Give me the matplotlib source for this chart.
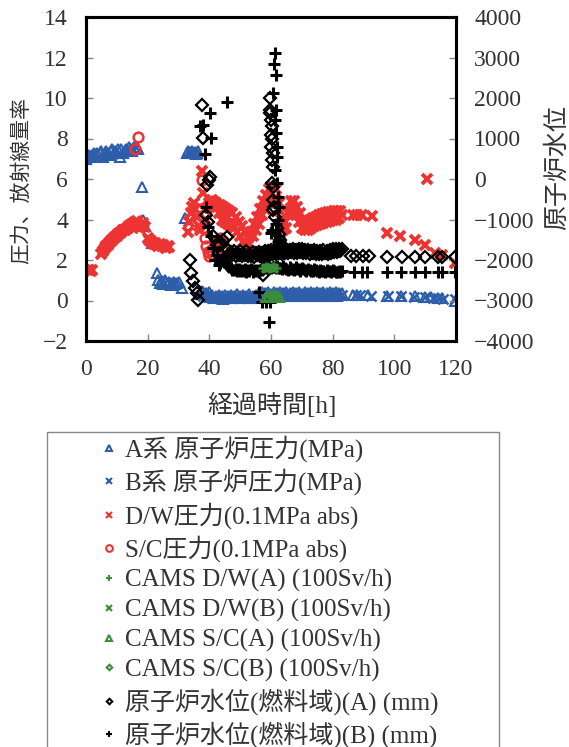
import matplotlib
matplotlib.use('Agg')
import matplotlib.pyplot as plt
from matplotlib.patches import Rectangle

plt.rcParams['font.family'] = ['Liberation Serif', 'Noto Sans CJK JP']

# A系 原子炉圧力 (MPa)
a_t = [0, 0.5, 1, 1.5, 2, 2.5, 3, 3.5, 4, 4.5, 5, 5.5, 6, 6.5, 7, 7.5, 8, 8.5, 9, 9.5,
       10, 10.5, 11, 11.5, 12, 12.5, 13, 13.5, 14, 14.5, 15, 15.5, 16, 16.5, 17,
       18, 18.5, 19, 21.5, 23, 23.5, 24, 24.5, 25, 25.5, 26, 26.5, 27, 27.5, 28, 28.5,
       29, 29.5, 30, 31, 32,
       32.8, 33.2, 33.6, 34, 34.4, 34.8, 35.2, 35.6, 36, 36.4,
       37, 37.5, 38, 38.5, 39, 39.5, 40,
       40.5, 41, 41.5, 42, 42.5, 43, 43.5, 44, 44.5, 45, 45.5, 46, 46.5, 47, 47.5,
       48, 48.5, 49, 49.5, 50, 50.5, 51, 51.5, 52, 52.5, 53, 53.5, 54, 54.5, 55,
       55.5, 56, 56.5, 57, 57.5, 58, 58.5, 59, 59.5, 60, 60.5, 61, 61.5, 62,
       62.5, 63, 63.5, 64, 64.5, 65, 65.5, 66, 66.5, 67, 67.5, 68, 68.5, 69,
       69.5, 70, 70.5, 71, 71.5, 72, 72.5, 73, 73.5, 74, 74.5, 75, 75.5, 76,
       76.5, 77, 77.5, 78, 78.5, 79, 79.5, 80, 80.5, 81, 81.5, 82, 82.5, 83,
       86.5, 88, 91.5, 97.6, 102, 106.7, 110, 112, 114, 115.5, 119.8]
a_p = [7.0, 7.1, 7.2, 7.1, 7.2, 7.3, 7.2, 7.3, 7.2, 7.3, 7.4, 7.1, 7.3, 7.4, 7.3, 7.2,
       7.4, 7.5, 7.3, 7.4, 7.3, 7.5, 7.1, 7.5, 7.3, 7.4, 7.5, 7.4, 7.6, 7.5, 7.4, 7.6,
       7.5, 7.6, 7.5,
       5.6, 4.0, 3.7, 2.85, 1.35, 1.0, 0.85, 0.95, 0.8, 1.0, 0.9, 0.8, 0.9, 0.75, 0.85,
       0.9, 0.8, 0.85, 0.9, 0.6, 4.05,
       7.3, 7.4, 7.35, 7.3, 7.4, 7.3, 7.35, 7.25, 7.3, 7.4,
       0.3, 0.45, 0.4, 0.3, 0.35, 0.25, 0.4,
       0.15, 0.25, 0.1, 0.2, 0.15, 0.25, 0.1, 0.2, 0.05, 0.25, 0.1, 0.2, 0.15, 0.25, 0.1,
       0.2, 0.15, 0.3, 0.1, 0.2, 0.15, 0.25, 0.1, 0.2, 0.15, 0.3, 0.1, 0.2, 0.15, 0.25,
       0.2, 0.35, 0.25, 0.4, 0.2, 0.35, 0.25, 0.4, 0.2, 0.3, 0.25, 0.4, 0.2, 0.35,
       0.25, 0.4, 0.2, 0.35, 0.3, 0.4, 0.2, 0.35, 0.25, 0.4, 0.2, 0.35, 0.25, 0.4,
       0.2, 0.3, 0.25, 0.4, 0.2, 0.35, 0.25, 0.4, 0.2, 0.35, 0.25, 0.4, 0.2, 0.35,
       0.3, 0.4, 0.2, 0.35, 0.25, 0.4, 0.2, 0.35, 0.25, 0.4, 0.2, 0.35, 0.25, 0.35,
       0.25, 0.25, 0.25, 0.2, 0.2, 0.2, 0.15, 0.15, 0.1, 0.1, 0.0]

# B系 原子炉圧力 (MPa)
b_t = [38, 39.5, 41, 42.5, 44, 45.5, 47, 48.5, 50, 51.5, 53, 54.5, 56, 57.5, 59, 60.5,
       62, 63.5, 65, 66.5, 68, 69.5, 71, 72.5, 74, 75.5, 77, 78.5, 80, 81.5, 83,
       87.5, 89, 92.5, 97.8, 102.3, 106.5, 109.8, 112.5, 114.2, 115.8, 119.6]
b_p = [0.2, 0.15, 0.1, 0.15, 0.1, 0.15, 0.1, 0.15, 0.1, 0.15, 0.1, 0.15, 0.2, 0.2, 0.25,
       0.3, 0.25, 0.3, 0.3, 0.25, 0.3, 0.3, 0.3, 0.25, 0.3, 0.3, 0.3, 0.25, 0.3, 0.3, 0.25,
       0.25, 0.25, 0.2, 0.2, 0.2, 0.15, 0.15, 0.1, 0.1, 0.05, 0.05]

# D/W圧力 (0.1MPa abs)
dw_t = [0.5, 1, 1.5, 2,
        5, 5.5, 6, 6.5, 7, 7.5, 8, 8.5, 9, 9.5, 10, 10.5, 11, 11.5, 12, 12.5, 13, 13.5,
        14, 14.5, 15, 15.5, 16, 16.5, 17, 17.5, 18, 18.5, 19,
        20, 20.5, 21, 21.5, 22, 22.5, 23, 23.5, 24, 24.5, 25, 25.5, 26, 26.5, 27,
        33, 33.5, 34, 34.5, 35, 35.5, 36, 36.5, 37, 37.5, 38, 38.5, 39, 39.5, 40, 40.5,
        41, 41.5, 42, 42.5,
        43, 43.5, 44, 44.5, 45, 45.5, 46, 46.5, 47, 47.5, 48, 48.5,
        49, 49.5, 50, 50.5, 51, 51.5, 52, 52.5, 53, 53.5, 54, 54.5, 55, 55.5, 56, 56.5,
        57, 57.5, 58, 58.5, 59, 59.5, 60, 60.5, 61, 61.5, 62, 62.5,
        63, 63.5, 64, 64.5, 65, 65.5, 66, 66.5, 67, 67.5, 68, 68.5, 69, 69.5, 70, 70.5,
        71, 71.5, 72, 72.5, 73, 73.5, 74, 74.5, 75, 75.5, 76, 76.5, 77, 77.5, 78, 78.5,
        79, 79.5, 80, 80.5, 81, 81.5, 82, 82.5, 83,
        86.5, 88, 89.4, 92.7, 97.5, 101.8, 106.7, 110, 110.5, 113.2, 115.4, 119.7]
dw_p = [1.5, 1.5, 1.45, 1.5,
        2.3, 2.45, 2.6, 2.7, 2.75, 2.85, 2.95, 3.0, 3.1, 3.15, 3.2, 3.3, 3.35, 3.4, 3.5,
        3.5, 3.55, 3.6, 3.7, 3.75, 3.8, 3.85, 3.9, 3.95, 3.8, 3.6, 3.75, 3.85, 3.65,
        3.1, 3.0, 2.95, 2.85, 2.8, 2.85, 2.75, 2.7, 2.8, 2.7, 2.75, 2.65, 2.6, 2.7, 2.65,
        3.4, 3.9, 4.3, 4.6, 4.8, 4.5, 4.1, 3.7, 3.5, 6.4, 5.3, 4.5, 4.0, 4.6, 4.8, 4.9,
        4.95, 4.85, 4.8, 4.6,
        4.3, 4.7, 4.0, 4.6, 3.9, 4.5, 3.8, 4.4, 3.7, 4.3, 3.6, 4.1,
        3.4, 3.9, 3.2, 3.7, 2.9, 3.4, 2.7, 3.1, 2.8, 3.4, 3.2, 3.8, 3.5, 4.1, 3.8, 4.5,
        4.2, 4.9, 4.5, 5.2, 4.8, 5.5, 4.9, 5.6, 5.0, 5.5, 4.9, 4.8,
        4.4, 4.0, 3.5, 3.9, 3.6, 4.3, 4.4, 4.9, 4.5, 4.9, 4.2, 4.6, 3.9, 4.3, 3.6, 4.0,
        3.5, 3.9, 3.5, 3.95, 3.6, 4.05, 3.7, 4.1, 3.75, 4.2, 3.8, 4.25, 3.85, 4.3, 3.9,
        4.35, 3.95, 4.35, 4.0, 4.4, 4.0, 4.4, 4.05, 4.4, 4.2,
        4.2, 4.2, 4.2, 4.15, 3.35, 3.2, 3.0, 2.75, 6.0, 2.35, 2.25, 1.85]

# S/C圧力 (0.1MPa abs)
sc_t = [16, 17, 37.5, 38, 38.5, 39, 39.5, 40, 40.5, 41, 41.5, 42, 42.5, 43, 43.5, 44,
        44.5, 41.3, 42]
sc_p = [7.5, 8.05, 5.95, 3.6, 3.1, 2.7, 2.4, 2.2, 2.5, 2.3, 2.6, 2.9, 2.5, 2.8, 3.1, 2.6,
        2.9, 4.9, 4.8]

# CAMS (100Sv/h)
cdwa_t = [57.5, 58.5, 59.5, 60.5, 61.5]
cdwa_v = [1.6, 1.65, 1.6, 1.65, 1.6]
cdwb_t = [58, 59, 60, 61]
cdwb_v = [1.6, 1.6, 1.65, 1.6]
csca_t = [58.5, 59.5, 60.5, 61.5, 62.5]
csca_v = [0.15, 0.2, 0.15, 0.2, 0.15]
cscb_t = [59, 60, 61, 62]
cscb_v = [0.15, 0.2, 0.2, 0.15]

# 原子炉水位(燃料域)(A) (mm)
lva_t = [33.7, 34.0, 34.8, 35.4, 36.0, 36.4, 37.5, 38.0, 39.8, 40.2, 39.1, 39.0, 39.6,
         41.3, 42.5, 43.0, 43.5, 44.5, 45.7,
         46, 46.5, 47, 47.5, 48, 48.5, 49, 49.5, 50, 50.5, 51, 51.5, 52, 52.5,
         53, 53.5, 54, 54.5, 55, 55.5, 56, 56.5, 57, 57.5, 58, 58.5, 59, 59.5,
         60, 60.5, 61, 61.5, 62, 62.5, 63, 63.5, 64, 64.5, 65, 65.5, 66, 66.5,
         67, 67.5, 68, 68.5, 69, 69.5, 70, 70.5, 71, 71.5, 72, 72.5, 73, 73.5,
         74, 74.5, 75, 75.5, 76, 76.5, 77, 77.5, 78, 78.5, 79, 79.5, 80, 80.5,
         81, 81.5, 82, 82.5, 83,
         57.5, 58.0, 58.2, 58.5, 59.7, 59.7, 59.8, 60.0, 60.2, 59.9, 60.3, 60.0, 60.5,
         60.2, 60.6, 60.4, 60.8, 60.6, 61.0, 60.8, 61.2,
         62.0, 62.5, 63.0, 63.5,
         86, 87.6, 89.7, 91.9, 97.5, 102.4, 106.7, 110, 114.3, 115.4, 119.7]
lva_v = [-2000, -2330, -2530, -2700, -2820, -2990, 1830, 1005, -25, 40, -150, -890, -1050,
         -1400, -1630, -1835, -1630, -1506, -1424,
         -1760, -1860, -1800, -1880, -1770, -1900, -1820, -1870, -1780, -1910, -1830,
         -1880, -1790, -1900, -1840, -1890, -1800, -1920, -1830, -1880, -1800, -1900,
         -1820, -1870, -1790, -1860, -1780, -1850, -1760, -1840, -1780, -1850, -1760,
         -1830, -1750, -1840, -1770, -1820, -1740, -1830, -1760, -1810, -1730, -1820,
         -1750, -1820, -1730, -1810, -1740, -1830, -1750, -1820, -1760, -1840, -1770,
         -1830, -1760, -1850, -1770, -1840, -1780, -1850, -1760, -1830, -1770, -1840,
         -1750, -1820, -1740, -1810, -1740, -1800, -1730, -1790, -1740,
         -2370, -2000, -2165, -1835, 1990, 1700, 1620, 1460, 1300, 1090, 1000, 800, 640,
         470, 300, -110, -190, -520, -680, -770, -930,
         -1200, -1350, -1500, -1650,
         -1900, -1900, -1900, -1900, -1920, -1920, -1920, -1920, -1920, -1920, -1920]

# 原子炉水位(燃料域)(B) (mm)
lvb_t = [37.0, 38.0, 38.6, 40.2, 40.7, 45.6, 39.0, 39.7, 40.5, 41.3, 41.8, 42.5, 43.0,
         43.5, 44.5,
         45, 45.5, 46, 46.5, 47, 47.5, 48, 48.5, 49, 49.5, 50, 50.5, 51, 51.5,
         52, 52.5, 53, 53.5, 54, 54.5, 55, 55.5, 56, 56.5, 57, 57.5, 58, 58.5,
         59, 59.5, 60, 60.5, 61, 61.5, 62, 62.5, 63, 63.5, 64, 64.5, 65, 65.5,
         66, 66.5, 67, 67.5, 68, 68.5, 69, 69.5, 70, 70.5, 71, 71.5, 72, 72.5,
         73, 73.5, 74, 74.5, 75, 75.5, 76, 76.5, 77, 77.5, 78, 78.5, 79, 79.5,
         80, 80.5, 81, 81.5, 82, 82.5, 83,
         61.3, 61.0, 61.5, 60.8, 61.6, 61.3, 61.7, 61.8, 62.0, 61.4, 61.8, 62.3, 62.5,
         62.3, 60.2, 60.0, 56.0, 57.0, 58.5, 59.7, 59.2, 57.5,
         61.5, 62.0, 62.5, 63.0, 63.5, 64.0, 64.5, 62.2, 63.0, 61.8, 62.5, 63.8,
         87, 89.5, 91, 97.6, 102, 106.7, 110, 114, 115.4, 119.7]
lvb_v = [1300, 1330, 620, 1620, 1005, 1910, -684, -1178, -1400, -1711, -2000, -1877,
         -2123, -2082, -1925,
         -2050, -2100, -2150, -2180, -2200, -2240, -2250, -2220, -2260, -2230, -2280,
         -2240, -2270, -2230, -2290, -2250, -2270, -2230, -2290, -2250, -2270, -2240,
         -2300, -2250, -2240, -2210, -2200, -2180, -2170, -2200, -2200, -2170, -2180,
         -2200, -2150, -2190, -2200, -2230, -2160, -2200, -2210, -2240, -2170, -2210,
         -2220, -2250, -2180, -2220, -2230, -2260, -2200, -2230, -2240, -2270, -2210,
         -2240, -2260, -2280, -2230, -2250, -2270, -2290, -2240, -2260, -2280, -2300,
         -2240, -2270, -2280, -2300, -2250, -2280, -2290, -2300, -2260, -2290, -2280,
         3100, 2850, 2570, 2120, 1700, 1460, 1130, 800, 550, 220, -110, -440, -700,
         -1010, -1260, -1330, -2780, -3030, -3030, -3030, -3520, -2000,
         -1100, -1250, -1400, -1500, -1600, -1680, -1750, -1550, -1700, -1650, -1800,
         -1800,
         -2300, -2300, -2300, -2300, -2300, -2300, -2300, -2300, -2300, -2300]

blue = '#2E5EAA'
red = '#EE3333'
green = '#3A8E3A'

fig = plt.figure(figsize=(5.69, 7.47), dpi=100)
ax = fig.add_axes([86 / 569, 1 - 341 / 747, 370 / 569, 324 / 747])
ax2 = ax.twinx()

ax.set_xlim(0, 120)
ax.set_ylim(-2, 14)
ax2.set_ylim(-4000, 4000)

h = []
h += ax.plot(a_t, a_p, ls='none', marker='^', ms=7, mfc='none', mec=blue, mew=1.5,
             label='A系 原子炉圧力(MPa)')
h += ax.plot(b_t, b_p, ls='none', marker='x', ms=6.5, mec=blue, mew=1.8,
             label='B系 原子炉圧力(MPa)')
h += ax.plot(dw_t, dw_p, ls='none', marker='x', ms=7, mec=red, mew=2.8,
             label='D/W圧力(0.1MPa abs)')
h += ax.plot(sc_t, sc_p, ls='none', marker='o', ms=7, mfc='none', mec=red, mew=1.8,
             label='S/C圧力(0.1MPa abs)')
h += ax2.plot(lva_t, lva_v, ls='none', marker='D', ms=6, mfc='none', mec='black', mew=1.6,
              label='原子炉水位(燃料域)(A) (mm)')
h += ax2.plot(lvb_t, lvb_v, ls='none', marker='+', ms=8, mec='black', mew=2.2,
              label='原子炉水位(燃料域)(B) (mm)')

# CAMS readings use the left scale but sit above the water level marks
cams = []
cams += ax2.plot(cdwa_t, cdwa_v, ls='none', marker='+', ms=7, mec=green, mew=1.8,
                 transform=ax.transData, label='CAMS D/W(A) (100Sv/h)')
cams += ax2.plot(cdwb_t, cdwb_v, ls='none', marker='x', ms=6, mec=green, mew=1.8,
                 transform=ax.transData, label='CAMS D/W(B) (100Sv/h)')
cams += ax2.plot(csca_t, csca_v, ls='none', marker='^', ms=7, mfc='none', mec=green,
                 mew=1.5, transform=ax.transData, label='CAMS S/C(A) (100Sv/h)')
cams += ax2.plot(cscb_t, cscb_v, ls='none', marker='D', ms=5, mfc='none', mec=green,
                 mew=1.5, transform=ax.transData, label='CAMS S/C(B) (100Sv/h)')
h = h[:4] + cams + h[4:]

ax2.set_ylim(-4000, 4000)
ax.set_xticks(range(0, 121, 20))
ax.set_yticks(range(-2, 15, 2))
ax2.set_yticks(range(-4000, 4001, 1000))

for a in (ax, ax2):
    for s in a.spines.values():
        s.set_linewidth(2.2)
        s.set_color('black')
    a.tick_params(direction='in', length=5, width=1, color='#888888',
                  labelsize=17, labelcolor='#333333', pad=13)

fig.text(22 / 569, 1 - 180 / 747, '圧力、放射線量率', rotation=90, fontsize=15,
         ha='center', va='center', color='#333333')
fig.text(557 / 569, 1 - 168 / 747, '原子炉水位', rotation=90, fontsize=18,
         ha='center', va='center', color='#333333')
fig.text(272 / 569, 1 - 405 / 747, '経過時間[h]', fontsize=18,
         ha='center', va='center', color='#333333')

fig.patches.append(Rectangle((47 / 569, -0.05), 452 / 569, 0.05 + 1 - 432 / 747,
                             transform=fig.transFigure, fill=False,
                             edgecolor='#888888', linewidth=1))
leg = fig.legend(handles=h, loc='upper left', bbox_to_anchor=(101 / 569, 1 - 435 / 747),
                 frameon=False, fontsize=18, handlelength=0.6,
                 handletextpad=0.35, labelspacing=0.27, borderpad=0, borderaxespad=0,
                 labelcolor='#333333')
for lh in leg.legend_handles:
    lh.set_markersize(2.8 if lh.get_marker() == 'D' else 4.8)
    lh.set_markeredgewidth(1.5)

fig.savefig('out.png', dpi=100)
